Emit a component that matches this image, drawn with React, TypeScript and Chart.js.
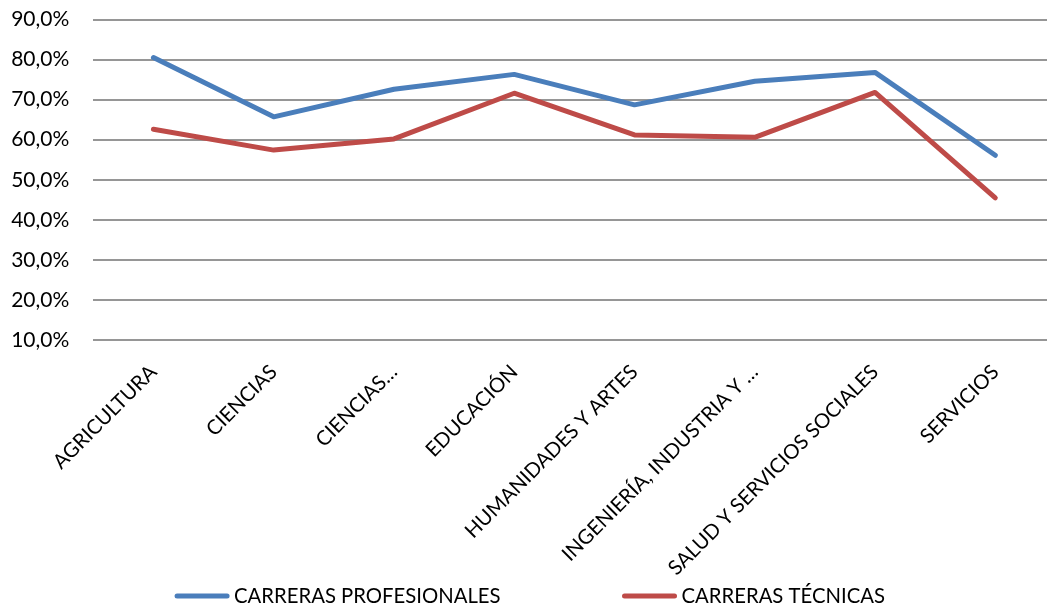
import React, { useEffect, useRef } from "react";
import { Chart, registerables } from "chart.js";

Chart.register(...registerables);

const categories = [
  "AGRICULTURA",
  "CIENCIAS",
  "CIENCIAS…",
  "EDUCACIÓN",
  "HUMANIDADES Y ARTES",
  "INGENIERÍA, INDUSTRIA Y …",
  "SALUD Y SERVICIOS SOCIALES",
  "SERVICIOS",
];
const profesionales = [80.5, 65.7, 72.6, 76.3, 68.7, 74.6, 76.8, 56.1];
const tecnicas = [62.6, 57.4, 60.2, 71.6, 61.2, 60.6, 71.8, 45.5];
const seriesNames = ["CARRERAS PROFESIONALES", "CARRERAS TÉCNICAS"];
const seriesColors = ["#4A7EBB", "#BE4B48"];
const yTicks = [10, 20, 30, 40, 50, 60, 70, 80, 90];

const FONT = "Lato";
const FSIZE = 21;
const FSIZE_SMALL = 20.3;
const LINE_W = 5;

const legendPlugin = {
  id: "excelLegend",
  afterDraw(chart: any) {
    const ctx = chart.ctx;
    ctx.save();
    ctx.font = `${FSIZE_SMALL}px ${FONT}`;
    ctx.textBaseline = "middle";
    ctx.textAlign = "left";
    const sample = 54;
    const gapText = 5;
    const gapItems = 122;
    const items = chart.data.datasets.map((d: any) => ({
      label: d.label,
      color: d.borderColor,
      w: sample + gapText + ctx.measureText(d.label).width,
    }));
    const total = items.reduce((s: number, it: any) => s + it.w, 0) + gapItems * (items.length - 1);
    let x = 530 - total / 2;
    const y = 596;
    items.forEach((it: any) => {
      ctx.strokeStyle = it.color;
      ctx.lineWidth = LINE_W;
      ctx.lineCap = "round";
      ctx.beginPath();
      ctx.moveTo(x + 2, y);
      ctx.lineTo(x + sample - 2, y);
      ctx.stroke();
      ctx.fillStyle = "#000";
      ctx.fillText(it.label, x + sample + gapText, y);
      x += it.w + gapItems;
    });
    ctx.restore();
  },
};

export default function App() {
  const ref = useRef<HTMLCanvasElement>(null);
  useEffect(() => {
    if (!ref.current) return;
    const chart = new Chart(ref.current, {
      type: "line",
      data: {
        datasets: [
          {
            label: seriesNames[0],
            data: profesionales.map((v, i) => ({ x: i, y: v })),
            borderColor: seriesColors[0],
            backgroundColor: seriesColors[0],
            borderWidth: LINE_W,
            pointRadius: 0,
            borderCapStyle: "round",
            borderJoinStyle: "round",
            tension: 0,
          },
          {
            label: seriesNames[1],
            data: tecnicas.map((v, i) => ({ x: i, y: v })),
            borderColor: seriesColors[1],
            backgroundColor: seriesColors[1],
            borderWidth: LINE_W,
            pointRadius: 0,
            borderCapStyle: "round",
            borderJoinStyle: "round",
            tension: 0,
          },
        ],
      },
      options: {
        responsive: false,
        animation: false,
        devicePixelRatio: 1,
        layout: { padding: { top: 19.5, left: 0, right: 0, bottom: 0 } },
        plugins: {
          legend: { display: false },
          tooltip: { enabled: false },
        },
        scales: {
          x: {
            type: "linear",
            min: -0.5,
            max: 7.43,
            grid: { display: false },
            border: { display: false },
            afterBuildTicks: (scale: any) => {
              scale.ticks = categories.map((_, i) => ({ value: i }));
            },
            afterFit: (scale: any) => {
              scale.height = 270;
            },
            ticks: {
              autoSkip: false,
              minRotation: 45,
              maxRotation: 45,
              padding: 12,
              color: "#000",
              font: { family: FONT, size: FSIZE_SMALL },
              callback: (v: any) => categories[v as number],
            },
          },
          y: {
            min: 10,
            max: 90,
            afterBuildTicks: (scale: any) => {
              scale.ticks = yTicks.map((v) => ({ value: v }));
            },
            afterFit: (scale: any) => {
              scale.width = 93.3;
            },
            grid: {
              color: "#969696",
              lineWidth: 2,
              drawTicks: true,
              tickLength: 24,
              tickColor: "rgba(0,0,0,0)",
            },
            border: { display: false },
            ticks: {
              padding: 0,
              color: "#000",
              font: { family: FONT, size: FSIZE },
              callback: (v: any) => Number(v).toFixed(1).replace(".", ",") + "%",
            },
          },
        },
      },
      plugins: [legendPlugin],
    });
    return () => chart.destroy();
  }, []);
  return (
    <div style={{ position: "absolute", left: 0, top: 0, width: 1047, height: 610, background: "#fff" }}>
      <canvas ref={ref} width={1047} height={610} />
    </div>
  );
}
